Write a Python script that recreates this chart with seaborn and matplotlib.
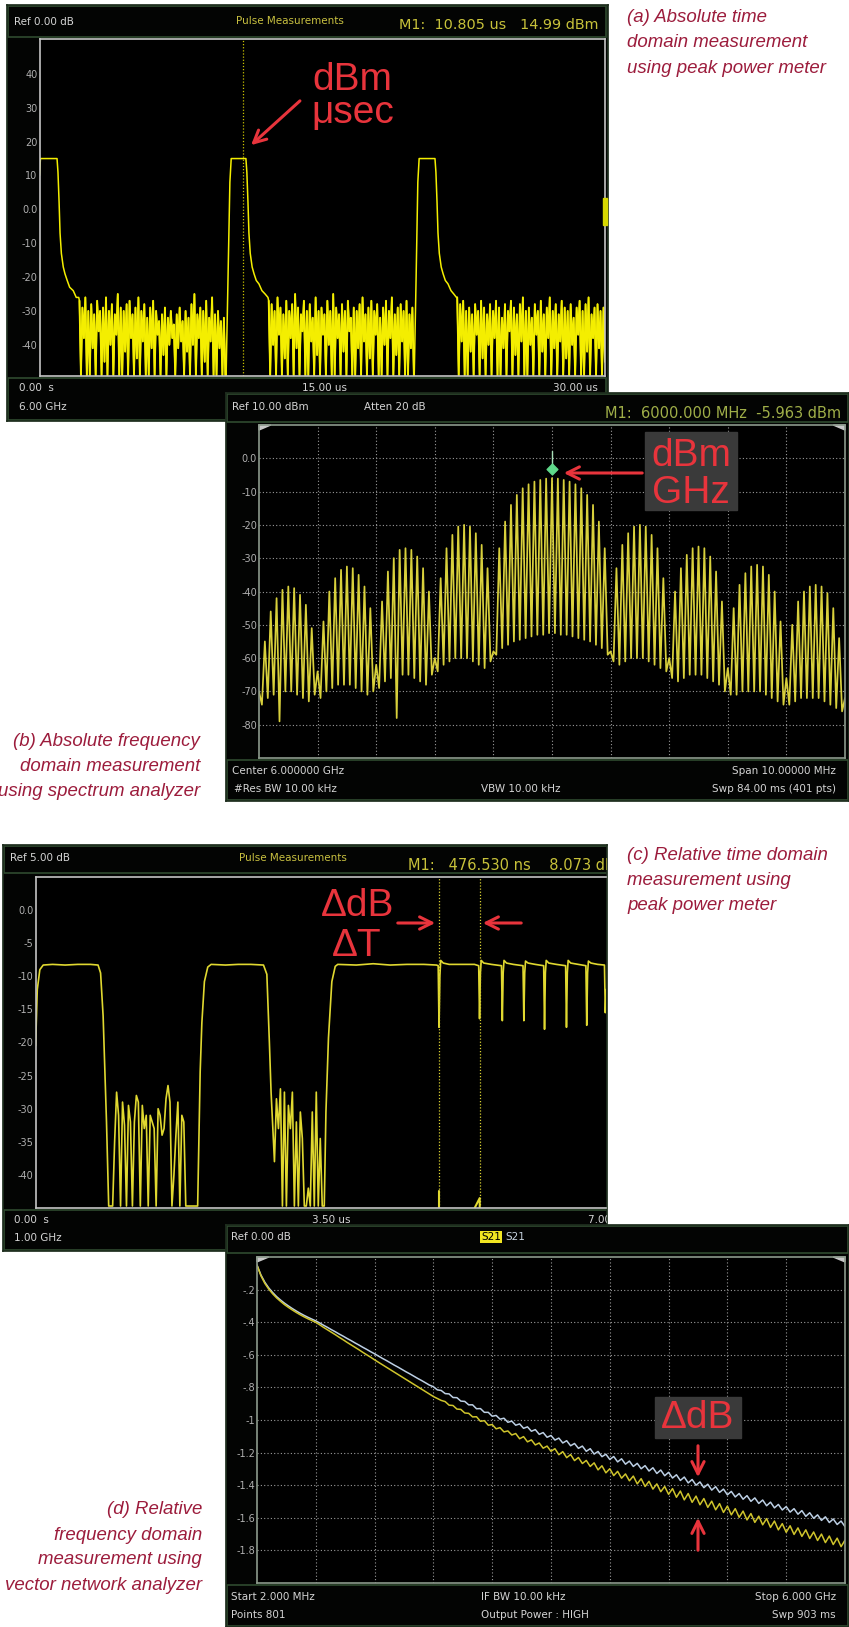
import numpy as np
import pandas as pd
import seaborn as sns
import matplotlib.pyplot as plt
from matplotlib.patches import Rectangle, Polygon

sns.set_theme(style="dark")
plt.rcParams["font.family"] = ["DejaVu Sans"]

W, H = 849, 1627

# ---------------- (a) absolute time domain, peak power meter (0..30 us)
a_yticks = [40, 30, 20, 10, 0, -10, -20, -30, -40]
a_ylabels = ["40", "30", "20", "10", "0.0", "-10", "-20", "-30", "-40"]
a_pulse1_t = [0.0, 0.05, 0.93, 0.98, 1.04, 1.09, 1.16, 1.26, 1.35, 1.47, 1.60, 1.79, 1.95, 2.08]
a_pulse1_v = [10, 15, 15, 11, 2, -7, -13, -17, -19, -21, -23, -24, -26, -26]
a_pulse2_t = [9.90, 10.00, 10.10, 10.17, 10.95, 11.00, 11.06, 11.11, 11.18, 11.28, 11.38, 11.50, 11.64,
              11.80, 11.97, 12.12]
a_pulse2_v = [-49, -20, 8, 15, 15, 11, 2, -7, -13, -17, -19, -21, -22, -24, -25, -26]
a_pulse3_t = [19.88, 19.98, 20.07, 20.14, 20.98, 21.03, 21.09, 21.14, 21.21, 21.31, 21.41, 21.53, 21.67,
              21.83, 21.98, 22.12]
a_pulse3_v = [-49, -20, 8, 15, 15, 11, 2, -7, -13, -17, -19, -21, -22, -24, -25, -26]
a_noise1 = [-27, -49, -29, -38, -26, -49, -30, -49, -28, -41, -31, -49, -27, -36, -30, -49, -29, -45, -26, -49,
            -30, -40, -28, -49, -31, -37, -25, -49, -29, -49, -30, -42, -28, -49, -27, -38, -31, -49, -29, -44,
            -26, -49, -30, -39, -28, -49, -32, -49, -29, -41, -27, -49, -30, -37, -33, -49, -31, -43, -29, -49,
            -32, -40, -30, -38, -34, -49, -31, -41, -29, -39, -33, -49, -30, -42, -32, -49, -28, -40, -25, -49,
            -31, -38, -29, -49, -30, -45, -27, -49, -32, -39, -26, -49, -31, -49, -30, -41, -33, -49, -32, -49]
a_noise2 = [-27, -49, -28, -40, -30, -49, -26, -37, -29, -49, -31, -44, -27, -49, -30, -38, -28, -49, -25, -41,
            -29, -49, -31, -36, -27, -49, -30, -49, -28, -39, -32, -49, -26, -43, -30, -49, -29, -37, -31, -49,
            -27, -40, -30, -49, -25, -49, -29, -38, -31, -49, -28, -42, -30, -49, -27, -36, -32, -49, -29, -49,
            -30, -41, -28, -49, -26, -39, -31, -49, -29, -44, -27, -49, -30, -37, -28, -49, -32, -49, -29, -40,
            -27, -49, -30, -38, -26, -49, -31, -43, -29, -49, -28, -39, -30, -49, -27, -49, -31, -41, -29, -49]
a_noise3 = [-26, -49, -28, -39, -27, -49, -30, -49, -29, -42, -31, -49, -28, -37, -30, -49, -27, -44, -29, -49,
            -31, -40, -28, -49, -30, -38, -27, -49, -29, -49, -32, -41, -28, -49, -30, -36, -27, -49, -29, -43,
            -31, -49, -28, -39, -26, -49, -30, -49, -29, -40, -32, -49, -28, -37, -30, -49, -27, -42, -31, -49,
            -29, -38, -26, -49, -30, -41, -28, -49, -31, -39, -27, -49, -29, -44, -30, -49, -28, -40, -32, -49,
            -29, -37, -27, -49, -30, -49, -28, -42, -26, -49, -31, -38, -29, -49, -28, -41, -30, -49, -29, -45]
a_noise_span = [(2.12, 9.86), (12.16, 19.86), (22.16, 30.0)]
a_marker_us = 10.805

# ---------------- (b) absolute frequency domain, spectrum analyzer (5995..6005 MHz)
b_yticks = [0, -10, -20, -30, -40, -50, -60, -70, -80]
b_ylabels = ["0.0", "-10", "-20", "-30", "-40", "-50", "-60", "-70", "-80"]
b_peaks = [-70, -55, -46, -42, -39.5, -38.5, -39, -41, -44, -51,
           -64, -49, -40, -36, -33.5, -32.5, -33, -35, -38.5, -45,
           -62, -43, -34, -30, -27.5, -27, -27.5, -29.5, -33, -40,
           -60, -36, -27, -23, -20.5, -20, -20.5, -22.5, -26, -33,
           -58, -27, -19, -14, -11, -9, -7.8, -7, -6.5, -6.1,
           -5.96, -6.1, -6.5, -7, -7.8, -9, -11, -14, -19, -27,
           -58, -33, -26, -22.5, -20.5, -20, -20.5, -23, -27, -36,
           -60, -40, -33, -29, -27, -26.5, -27, -29.5, -34, -43,
           -63, -45, -38, -34.5, -32.5, -32, -32.5, -35, -40, -49,
           -66, -50, -43, -40, -38.5, -38, -38.5, -40.5, -45, -54,
           -72]
b_floors = [-74, -72, -71, -79, -70, -70, -71, -72, -73, -71,
            -72, -70, -69, -68, -68, -68, -69, -70, -71, -70,
            -69, -67, -66, -78, -65, -65, -66, -67, -68, -65,
            -64, -62, -61, -60, -60, -60, -61, -62, -63, -61,
            -59, -57, -56, -55, -54.5, -54, -53.5, -53, -53, -52.5,
            -52.5, -53, -53, -53.5, -54, -54.5, -55, -56, -57, -59,
            -61, -62, -61, -60, -60, -60, -61, -62, -63, -64,
            -66, -67, -66, -65, -65, -65, -66, -67, -68, -70,
            -71, -71, -70, -70, -70, -70, -71, -72, -73, -74,
            -74, -73, -72, -72, -72, -72, -73, -74, -75, -76]
b_marker = (6000.0, -5.963)

# ---------------- (c) relative time domain, peak power meter (0..7 us)
c_yticks = [0, -5, -10, -15, -20, -25, -30, -35, -40]
c_ylabels = ["0.0", "-5", "-10", "-15", "-20", "-25", "-30", "-35", "-40"]
c_seg1_t = [0.00, 0.02, 0.05, 0.09, 0.20, 0.35, 0.50, 0.65, 0.74, 0.77, 0.80, 0.82, 0.84]
c_seg1_v = [-20.5, -12.0, -9.0, -8.3, -8.2, -8.3, -8.2, -8.2, -8.3, -9.5, -16.0, -24.0, -32.0]
c_noise1 = [-44.7, -44.7, -44.7, -35, -27.5, -31, -44.7, -29, -32.5, -44.7, -29.5, -32, -44.7, -32, -28, -29,
            -44.7, -29.5, -33, -31, -44.7, -31, -32, -33, -44.7, -30, -31, -34, -33, -28.5, -26.5, -29,
            -44.7, -40, -34, -29, -44.7, -31, -32, -44.7, -44.7, -44.7, -44.7, -44.7, -44.7, -44.7]
c_seg2_t = [1.95, 1.97, 2.00, 2.04, 2.08, 2.25, 2.40, 2.55, 2.70, 2.74, 2.77, 2.79]
c_seg2_v = [-24.4, -17.0, -10.8, -8.6, -8.2, -8.3, -8.2, -8.2, -8.3, -9.7, -20.0, -27.5]
c_noise2 = [-38, -28.5, -33, -27, -44.7, -27.5, -44.7, -29.5, -33, -27.5, -44.7, -32, -44.7, -30.5, -34.5,
            -44.7, -44.7, -42, -44.7, -30.5, -44.7, -27.5, -44.7, -34.5, -44.7, -44.7]
c_seg3_t = [3.44, 3.47, 3.51, 3.55, 3.58, 3.80, 4.00, 4.20, 4.40, 4.60, 4.75,
            4.77, 4.78, 4.79, 4.80, 4.83, 4.90, 5.05, 5.20,
            5.25, 5.26, 5.27, 5.28, 5.31, 5.40,
            5.52, 5.53, 5.54, 5.55, 5.58, 5.66,
            5.775, 5.785, 5.795, 5.805, 5.835, 5.92,
            6.02, 6.03, 6.04, 6.05, 6.08, 6.17,
            6.28, 6.29, 6.30, 6.31, 6.34, 6.43,
            6.52, 6.53, 6.54, 6.55, 6.58, 6.66,
            6.74, 6.75, 6.76]
c_seg3_v = [-30.5, -19.3, -10.8, -8.5, -8.2, -8.3, -8.1, -8.3, -8.2, -8.2, -8.3,
            -8.4, -17.7, -10.0, -7.6, -8.0, -8.2, -8.2, -8.2,
            -8.4, -16.4, -9.5, -7.6, -8.0, -8.2,
            -8.4, -16.7, -9.5, -7.6, -8.0, -8.2,
            -8.4, -16.7, -9.5, -7.7, -8.0, -8.2,
            -8.4, -18.0, -9.5, -7.6, -8.0, -8.2,
            -8.4, -17.7, -9.5, -7.6, -8.0, -8.2,
            -8.4, -17.4, -9.5, -7.7, -8.0, -8.2,
            -8.3, -15.5, -12.0]
c_noise_span = [(0.866, 1.92), (2.83, 3.42)]
c_markers_us = [4.785, 5.262]

# ---------------- (d) relative frequency domain, VNA S21 (0..6 GHz)
d_yticks = [-0.2, -0.4, -0.6, -0.8, -1.0, -1.2, -1.4, -1.6, -1.8]
d_ylabels = ["-.2", "-.4", "-.6", "-.8", "-1", "-1.2", "-1.4", "-1.6", "-1.8"]
d_blue = [-0.050, -0.110, -0.155, -0.190, -0.218, -0.243, -0.264, -0.283, -0.300, -0.316,
          -0.331, -0.345, -0.358, -0.370, -0.381, -0.392, -0.405, -0.419, -0.432, -0.446,
          -0.459, -0.473, -0.486, -0.500, -0.513, -0.527, -0.540, -0.554, -0.567, -0.581,
          -0.594, -0.608, -0.622, -0.635, -0.649, -0.663, -0.676, -0.690, -0.704, -0.717,
          -0.731, -0.745, -0.758, -0.772, -0.786, -0.796, -0.815, -0.819, -0.838, -0.840,
          -0.862, -0.863, -0.884, -0.886, -0.907, -0.907, -0.931, -0.930, -0.953, -0.953,
          -0.977, -0.972, -0.995, -0.989, -1.014, -1.007, -1.032, -1.024, -1.051, -1.042,
          -1.069, -1.059, -1.088, -1.077, -1.106, -1.095, -1.123, -1.111, -1.141, -1.127,
          -1.158, -1.144, -1.174, -1.160, -1.192, -1.176, -1.209, -1.193, -1.225, -1.210,
          -1.242, -1.224, -1.257, -1.238, -1.271, -1.252, -1.285, -1.266, -1.299, -1.280,
          -1.313, -1.293, -1.328, -1.307, -1.342, -1.321, -1.356, -1.336, -1.371, -1.350,
          -1.386, -1.365, -1.400, -1.380, -1.415, -1.394, -1.430, -1.409, -1.444, -1.424,
          -1.459, -1.438, -1.472, -1.451, -1.486, -1.464, -1.499, -1.478, -1.512, -1.491,
          -1.526, -1.504, -1.539, -1.518, -1.552, -1.531, -1.565, -1.544, -1.578, -1.556,
          -1.591, -1.569, -1.603, -1.582, -1.616, -1.594, -1.629, -1.607, -1.641, -1.620,
          -1.654]
d_yellow = [-0.050, -0.115, -0.162, -0.197, -0.226, -0.251, -0.272, -0.292, -0.309, -0.325,
            -0.340, -0.354, -0.367, -0.379, -0.390, -0.401, -0.416, -0.432, -0.447, -0.462,
            -0.477, -0.493, -0.508, -0.524, -0.539, -0.554, -0.569, -0.585, -0.600, -0.615,
            -0.631, -0.646, -0.661, -0.676, -0.691, -0.706, -0.721, -0.736, -0.751, -0.766,
            -0.781, -0.796, -0.811, -0.826, -0.841, -0.856, -0.868, -0.880, -0.887, -0.909,
            -0.911, -0.933, -0.935, -0.957, -0.959, -0.981, -0.980, -1.008, -1.004, -1.032,
            -1.028, -1.054, -1.047, -1.073, -1.067, -1.092, -1.083, -1.115, -1.102, -1.134,
            -1.122, -1.153, -1.141, -1.173, -1.160, -1.192, -1.176, -1.213, -1.194, -1.231,
            -1.212, -1.249, -1.230, -1.267, -1.248, -1.285, -1.263, -1.306, -1.281, -1.324,
            -1.299, -1.341, -1.315, -1.357, -1.331, -1.373, -1.344, -1.392, -1.360, -1.408,
            -1.376, -1.424, -1.392, -1.440, -1.408, -1.456, -1.421, -1.474, -1.436, -1.490,
            -1.451, -1.505, -1.467, -1.520, -1.482, -1.536, -1.498, -1.551, -1.513, -1.567,
            -1.528, -1.582, -1.544, -1.597, -1.559, -1.613, -1.574, -1.628, -1.590, -1.643,
            -1.605, -1.659, -1.620, -1.674, -1.636, -1.689, -1.649, -1.702, -1.662, -1.714,
            -1.674, -1.727, -1.687, -1.739, -1.700, -1.752, -1.712, -1.764, -1.725, -1.777,
            -1.737]

captions = {
    "a": ["(a) Absolute time", "domain measurement", "using peak power meter"],
    "b": ["(b) Absolute frequency", "domain measurement", "using spectrum analyzer"],
    "c": ["(c) Relative time domain", "measurement using", "peak power meter"],
    "d": ["(d) Relative", "frequency domain", "measurement using", "vector network analyzer"],
}

RED = "#e8343c"
CAPTION = "#9c1c3c"
LABEL = "#d4d4d4"


def frac(x0, y0, x1, y1):
    # pixel box (top-left origin) -> figure fraction
    return [x0 / W, 1 - y1 / H, (x1 - x0) / W, (y1 - y0) / H]


def screen(x0, y0, x1, y1, z):
    ax = fig.add_axes(frac(x0, y0, x1, y1), zorder=z)
    ax.set_xlim(x0, x1)
    ax.set_ylim(y1, y0)
    ax.set_facecolor("#030403")
    ax.set_xticks([])
    ax.set_yticks([])
    ax.grid(False)
    for s in ax.spines.values():
        s.set_color("#1e2e1e")
    return ax


def bar(ax, x0, y0, x1, y1):
    ax.add_patch(Rectangle((x0, y0), x1 - x0, y1 - y0, fill=False, ec="#2f4a2f", lw=1.2))


def txt(ax, x, y, s, color=LABEL, size=7.5, ha="left", **kw):
    ax.text(x, y, s, color=color, fontsize=size, ha=ha, va="center", clip_on=True, **kw)


def scope(box, z, xlim, ylim, yticks, ylabels, edge="#c4c4c4", grid=False, xgrid=None):
    ax = fig.add_axes(frac(*box), zorder=z)
    ax.set_facecolor("black")
    ax.set_xlim(*xlim)
    ax.set_ylim(*ylim)
    ax.set_yticks(yticks)
    ax.set_yticklabels(ylabels)
    ax.set_xticks(xgrid if xgrid is not None else [])
    ax.tick_params(axis="y", length=0, pad=1.5, labelsize=7, labelcolor="#b0b0b0")
    ax.tick_params(axis="x", length=0, labelbottom=False)
    for s in ax.spines.values():
        s.set_color(edge)
        s.set_linewidth(1.2)
    if grid:
        ax.grid(True, color="#9a9a9a", ls=(0, (1, 2)), lw=0.8)
    else:
        ax.grid(False)
    return ax


def tidy(ax, xlim, ylim):
    ax.set_xlim(*xlim)
    ax.set_ylim(*ylim)
    ax.set_xlabel("")
    ax.set_ylabel("")


def corners(ax):
    for pts in ([(0, 1), (0.02, 1), (0, 0.985)], [(1, 1), (0.98, 1), (1, 0.985)]):
        ax.add_patch(Polygon(pts, closed=True, transform=ax.transAxes, color="#c8c8c8", clip_on=False))


fig = plt.figure(figsize=(W / 100, H / 100), dpi=100)
fig.patch.set_facecolor("white")

# ======================= panel (a)
bgA = screen(7, 5, 608, 421, 1)
bar(bgA, 8, 6, 606, 37)
bar(bgA, 8, 378, 606, 420)
txt(bgA, 14, 22, "Ref 0.00 dB")
txt(bgA, 236, 21, "Pulse Measurements", color="#c8c040")
txt(bgA, 399, 25, "M1:  10.805 us   14.99 dBm", color="#c8c23a", size=10.4)
txt(bgA, 19, 388, "0.00  s")
txt(bgA, 324, 388, "15.00 us", ha="center")
txt(bgA, 598, 388, "30.00 us", ha="right")
txt(bgA, 19, 407, "6.00 GHz")

pulse_t = [a_pulse1_t, a_pulse2_t, a_pulse3_t]
pulse_v = [a_pulse1_v, a_pulse2_v, a_pulse3_v]
noise_v = [a_noise1, a_noise2, a_noise3]
a_rows = []
for k in range(3):
    a_rows.append(pd.DataFrame({"us": pulse_t[k], "dB": pulse_v[k], "part": "pulse%d" % k}))
    t0, t1 = a_noise_span[k]
    a_rows.append(pd.DataFrame({"us": np.linspace(t0, t1, len(noise_v[k])), "dB": noise_v[k],
                                "part": "noise%d" % k}))
dfa = pd.concat(a_rows, ignore_index=True)
dfa_line = dfa.sort_values("us", kind="stable")

axA = scope((39.5, 39, 605, 376), 2, (0, 30), (-49.2, 50.3), a_yticks, a_ylabels)
sns.lineplot(data=dfa_line, x="us", y="dB", ax=axA, color="#f4ee00", lw=1.1,
             estimator=None, sort=False, legend=False)
sns.lineplot(data=dfa[dfa["part"].str.startswith("noise")], x="us", y="dB", units="part", ax=axA,
             color="#f4ee00", lw=1.35, estimator=None, sort=False, legend=False)
axA.axvline(a_marker_us, color="#c8c000", ls=(0, (1, 1.5)), lw=0.9)
tidy(axA, (0, 30), (-49.2, 50.3))

# ======================= panel (b)
bgB = screen(226, 393, 849, 801, 3)
bar(bgB, 227, 394, 848, 422)
bar(bgB, 227, 760, 848, 800)
txt(bgB, 232, 407, "Ref 10.00 dBm")
txt(bgB, 364, 407, "Atten 20 dB")
txt(bgB, 841, 413, "M1:  6000.000 MHz  -5.963 dBm", color="#9fae48", size=10.5, ha="right")
txt(bgB, 232, 771, "Center 6.000000 GHz")
txt(bgB, 836, 771, "Span 10.00000 MHz", ha="right")
txt(bgB, 234, 789, "#Res BW 10.00 kHz")
txt(bgB, 481, 789, "VBW 10.00 kHz")
txt(bgB, 836, 789, "Swp 84.00 ms (401 pts)", ha="right")

b_f = np.linspace(5995, 6005, len(b_peaks) + len(b_floors))
b_v = np.empty(len(b_f))
b_v[0::2] = b_peaks
b_v[1::2] = b_floors
dfb = pd.DataFrame({"MHz": b_f, "dBm": b_v})

axB = scope((259, 425, 845, 758), 4, (5995, 6005), (-90, 10), b_yticks, b_ylabels,
            edge="#8c9a8c", grid=True, xgrid=list(range(5996, 6005)))
sns.lineplot(data=dfb, x="MHz", y="dBm", ax=axB, color="#d8d03c", lw=1.25,
             estimator=None, sort=False, legend=False)
axB.plot([b_marker[0], b_marker[0]], [b_marker[1] + 3.5, b_marker[1] + 8.2], color="#a8e0b8", lw=1.0)
axB.scatter([b_marker[0]], [b_marker[1] + 2.6], marker="D", s=30, color="#5fd98a", zorder=5)
tidy(axB, (5995, 6005), (-90, 10))
corners(axB)

# ======================= panel (c)
bgC = screen(3, 845, 607, 1251, 5)
bar(bgC, 4, 846, 640, 873)
bar(bgC, 4, 1210, 640, 1250)
txt(bgC, 10, 858, "Ref 5.00 dB")
txt(bgC, 239, 858, "Pulse Measurements", color="#c8c040")
txt(bgC, 408, 866, "M1:   476.530 ns    8.073 dB", color="#c8c23a", size=10.5)
txt(bgC, 14, 1220, "0.00  s")
txt(bgC, 331, 1220, "3.50 us", ha="center")
txt(bgC, 626, 1220, "7.00 us", ha="right")
txt(bgC, 14, 1238, "1.00 GHz")

c_t = list(c_seg1_t) + list(np.linspace(*c_noise_span[0], len(c_noise1))) + list(c_seg2_t) \
    + list(np.linspace(*c_noise_span[1], len(c_noise2))) + list(c_seg3_t)
c_v = list(c_seg1_v) + list(c_noise1) + list(c_seg2_v) + list(c_noise2) + list(c_seg3_v)
dfc = pd.DataFrame({"us": c_t, "dB": c_v})

# plot spans 0..7 us over 35.6..626 px, screenshot is cropped at 606 px
c_xmax = 7 * (606 - 35.6) / (626.4 - 35.6)
axC = scope((35.6, 877, 606, 1208), 6, (0, c_xmax), (-45, 5), c_yticks, c_ylabels)
axC.spines["right"].set_visible(False)
sns.lineplot(data=dfc, x="us", y="dB", ax=axC, color="#e0d830", lw=1.2,
             estimator=None, sort=False, legend=False)
for m in c_markers_us:
    axC.axvline(m, color="#d8d030", ls=(0, (1, 1.5)), lw=0.9)
axC.plot([c_markers_us[0], c_markers_us[0]], [-45, -42.5], color="#e0d830", lw=1.5)
axC.plot([c_markers_us[1] - 0.06, c_markers_us[1], c_markers_us[1]], [-45, -43.5, -45], color="#e0d830", lw=1.5)
tidy(axC, (0, c_xmax), (-45, 5))

# ======================= panel (d)
bgD = screen(226, 1225, 849, 1627, 7)
bar(bgD, 227, 1226, 848, 1253)
bar(bgD, 227, 1585, 848, 1626)
txt(bgD, 231, 1237, "Ref 0.00 dB")
bgD.text(481, 1237, "S21", color="black", fontsize=7.5, va="center",
         bbox=dict(boxstyle="square,pad=0.1", fc="#f2e622", ec="none"))
txt(bgD, 505, 1237, "S21", color="#c8d4e0")
txt(bgD, 231, 1597, "Start 2.000 MHz")
txt(bgD, 481, 1597, "IF BW 10.00 kHz")
txt(bgD, 836, 1597, "Stop 6.000 GHz", ha="right")
txt(bgD, 231, 1615, "Points 801")
txt(bgD, 481, 1615, "Output Power : HIGH")
txt(bgD, 836, 1615, "Swp 903 ms", ha="right")

d_f = np.linspace(0, 6, len(d_blue))
dfd = pd.concat([
    pd.DataFrame({"GHz": d_f, "dB": d_blue, "trace": "reference"}),
    pd.DataFrame({"GHz": d_f, "dB": d_yellow, "trace": "measured"}),
])
axD = scope((257, 1257, 845, 1583), 8, (0, 6), (-2, 0), d_yticks, d_ylabels,
            edge="#8c9a8c", grid=True, xgrid=[0.6 * k for k in range(1, 10)])
sns.lineplot(data=dfd, x="GHz", y="dB", hue="trace", ax=axD,
             palette={"reference": "#bccfe4", "measured": "#cfc42c"}, lw=1.1,
             estimator=None, sort=False, legend=False)
tidy(axD, (0, 6), (-2, 0))
corners(axD)

# ======================= overlay: call-outs and captions
ov = fig.add_axes([0, 0, 1, 1], zorder=20)
ov.set_xlim(0, W)
ov.set_ylim(H, 0)
ov.axis("off")
ov.patch.set_alpha(0)

ov.add_patch(Rectangle((603, 198), 4, 27, color="#d8d800"))

big = dict(color=RED, fontsize=28, ha="center", va="center", family=["Liberation Sans", "DejaVu Sans"])
arrow = dict(arrowstyle="->", color=RED, lw=2.2, mutation_scale=22)

# (a)
ov.text(352, 80, "dBm", **big)
ov.text(353, 113, "\u03bcsec", **big)
ov.annotate("", xy=(249, 147), xytext=(302, 99), arrowprops=arrow)

# (b)
ov.add_patch(Rectangle((645, 432), 92, 78, color="#3a3a3a"))
ov.text(691, 456, "dBm", **big)
ov.text(691, 493, "GHz", **big)
ov.annotate("", xy=(561, 473), xytext=(645, 473), arrowprops=arrow)

# (c)
ov.text(358, 906, "\u0394dB", **big)
ov.text(357, 946, "\u0394T", **big)
ov.annotate("", xy=(438, 923), xytext=(395, 923), arrowprops=arrow)
ov.annotate("", xy=(480, 923), xytext=(524, 923), arrowprops=arrow)

# (d)
ov.add_patch(Rectangle((655, 1397), 86, 41, color="#3a3a3a"))
ov.text(698, 1418, "\u0394dB", **big)
ov.annotate("", xy=(698, 1480), xytext=(698, 1443), arrowprops=arrow)
ov.annotate("", xy=(698, 1515), xytext=(698, 1553), arrowprops=arrow)

cap = dict(color=CAPTION, fontsize=13.4, style="italic", va="center",
           family=["Liberation Sans", "DejaVu Sans"])
for i, line in enumerate(captions["a"]):
    ov.text(627, 17 + 25.5 * i, line, ha="left", **cap)
for i, line in enumerate(captions["b"]):
    ov.text(200, 741 + 25 * i, line, ha="right", **cap)
for i, line in enumerate(captions["c"]):
    ov.text(627, 855 + 25 * i, line, ha="left", **cap)
for i, line in enumerate(captions["d"]):
    ov.text(202, 1510 + 25 * i, line, ha="right", **cap)

fig.savefig("out.png", dpi=100, facecolor="white")
plt.close(fig)
